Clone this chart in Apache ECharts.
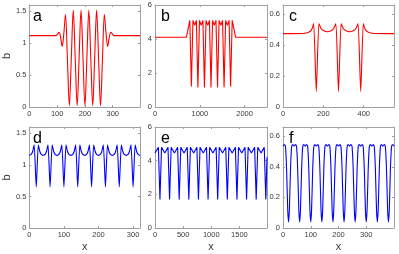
<!DOCTYPE html>
<html><head><meta charset="utf-8">
<script src="https://cdn.jsdelivr.net/npm/echarts@6/dist/echarts.min.js"></script>
<style>html,body{margin:0;padding:0;background:#fff}#c{width:399px;height:254px}</style>
</head><body><div id="c"></div><script>
// ---- data ----
const aX = [0,96,102,107,113,118,124,130,137,144,151,158,165,172,179,186,193,200,207,214,221,228,235,242,249,256,263,270,276,282,287,293,298,304,398];
const aY = [1.12,1.12,1.15,1.17,1.08,0.95,1.15,1.45,0.75,0.02,0.77,1.52,0.77,0.02,0.77,1.52,0.77,0.02,0.77,1.52,0.77,0.02,0.77,1.52,0.77,0.02,0.75,1.45,1.15,0.95,1.08,1.17,1.15,1.12,1.12];

const bX = [0,700,777,812,847,885,923,958,993,1031,1069,1104,1139,1177,1215,1250,1285,1323,1361,1396,1431,1469,1507,1542,1577,1615,1653,1688,1723,1800,2500];
const bY = [4.1,4.1,5.1,1.2,5.1,4.8,5.1,1.15,5.1,4.8,5.1,1.15,5.1,4.8,5.1,1.15,5.1,4.8,5.1,1.15,5.1,4.8,5.1,1.15,5.1,4.8,5.1,1.2,5.1,4.1,4.1];

const cX = [0,100,120,135,145,152,165,178,188,200,220,240,252,262,275,288,298,310,330,350,362,372,385,398,405,415,430,450,550];
const cY = [0.475,0.476,0.481,0.49,0.51,0.54,0.1,0.54,0.51,0.495,0.487,0.495,0.51,0.54,0.1,0.54,0.51,0.495,0.487,0.495,0.51,0.54,0.1,0.54,0.51,0.49,0.481,0.476,0.475];

const dX = [0,6,10,14,20,26,30,34,40,46,50,54,60,66,70,74,80,86,90,94,100,106,110,114,120,126,130,134,140,146,150,154,160,166,170,174,180,186,190,194,200,206,210,214,220,226,230,234,240,246,250,254,260,266,270,274,280,286,290,294,300,306,310,314,320];
const dY = [1.15,1.17,1.22,1.32,0.65,1.32,1.22,1.17, 1.15,1.17,1.22,1.32,0.65,1.32,1.22,1.17, 1.15,1.17,1.22,1.32,0.65,1.32,1.22,1.17, 1.15,1.17,1.22,1.32,0.65,1.32,1.22,1.17, 1.15,1.17,1.22,1.32,0.65,1.32,1.22,1.17, 1.15,1.17,1.22,1.32,0.65,1.32,1.22,1.17, 1.15,1.17,1.22,1.32,0.65,1.32,1.22,1.17, 1.15,1.17,1.22,1.32,0.65,1.32,1.22,1.17, 1.15];

const eX = [0,60,88,116,174,231,259,287,345,402,430,458,516,573,601,629,687,744,772,800,858,915,943,971,1029,1086,1114,1142,1200,1257,1285,1313,1371,1428,1456,1484,1542,1599,1627,1655,1713,1770,1798,1826,1884,1941,1969,1990];
const eY = [4.45,4.8,1.7,4.8, 4.45,4.8,1.7,4.8, 4.45,4.8,1.7,4.8, 4.45,4.8,1.7,4.8, 4.45,4.8,1.7,4.8, 4.45,4.8,1.7,4.8, 4.45,4.8,1.7,4.8, 4.45,4.8,1.7,4.8, 4.45,4.8,1.7,4.8, 4.45,4.8,1.7,4.8, 4.45,4.8,1.7,4.8, 4.45,4.8,1.7,4.2];

const fX = [0,5,9,13,17,20,23,27,31,35, 40,45,49,53,57,60,63,67,71,75, 80,85,89,93,97,100,103,107,111,115, 120,125,129,133,137,140,143,147,151,155, 160,165,169,173,177,180,183,187,191,195, 200,205,209,213,217,220,223,227,231,235, 240,245,249,253,257,260,263,267,271,275, 280,285,289,293,297,300,303,307,311,315, 320,325,329,333,337,340,343,347,351,355, 360,365,369,373,377,380,383,387,391,395, 400];
const fY = [0.535,0.545,0.53,0.38,0.12,0.04,0.12,0.38,0.53,0.545, 0.535,0.545,0.53,0.38,0.12,0.04,0.12,0.38,0.53,0.545, 0.535,0.545,0.53,0.38,0.12,0.04,0.12,0.38,0.53,0.545, 0.535,0.545,0.53,0.38,0.12,0.04,0.12,0.38,0.53,0.545, 0.535,0.545,0.53,0.38,0.12,0.04,0.12,0.38,0.53,0.545, 0.535,0.545,0.53,0.38,0.12,0.04,0.12,0.38,0.53,0.545, 0.535,0.545,0.53,0.38,0.12,0.04,0.12,0.38,0.53,0.545, 0.535,0.545,0.53,0.38,0.12,0.04,0.12,0.38,0.53,0.545, 0.535,0.545,0.53,0.38,0.12,0.04,0.12,0.38,0.53,0.545, 0.535,0.545,0.53,0.38,0.12,0.04,0.12,0.38,0.53,0.545, 0.535];

const panelLetters = ['a','b','c','d','e','f'];
const xMax = [398, 2500, 550, 320, 1990, 400];
const xStep = [100, 1000, 200, 100, 500, 100];
const yMax = [1.6, 6, 0.66, 1.6, 6, 0.66];
const yStep = [0.5, 2, 0.2, 0.5, 2, 0.2];

// ---- layout ----
const boxes = [
  {l:27, t:5, w:113, h:102}, {l:155, t:5, w:112, h:102}, {l:283, t:5, w:111, h:102},
  {l:27, t:127, w:113, h:101}, {l:155, t:127, w:112, h:101}, {l:283, t:127, w:111, h:101}
];
const xs = [aX,bX,cX,dX,eX,fX], ys = [aY,bY,cY,dY,eY,fY];
const colors = ['#ff0000','#ff0000','#ff0000','#0000ff','#0000ff','#0000ff'];
const smooth = [0.35, false, 0.2, 0.2, false, 0.3];
const axCol = '#a0a0a0', txtCol = '#3a3a3a', ff = 'Liberation Sans, Arial, sans-serif';
const fmt = v => String(+v.toFixed(3));

const xAxes = [], yAxes = [];
boxes.forEach((b,i) => {
  ['bottom','top'].forEach(pos => xAxes.push({
    type:'value', gridIndex:i, position:pos, min:0, max:xMax[i], interval:xStep[i],
    name: (pos==='bottom' && i>=3) ? 'x' : '', nameLocation:'middle', nameGap:13,
    nameTextStyle:{fontSize:11, color:txtCol, fontFamily:ff},
    axisLine:{show:true, onZero:false, lineStyle:{color:axCol, width:1}},
    axisTick:{show:true, inside:true, length:2, lineStyle:{color:axCol}},
    axisLabel:{show:pos==='bottom', fontSize:7.5, color:txtCol, margin:3, fontFamily:ff, showMaxLabel:false, formatter:fmt},
    splitLine:{show:false}
  }));
  ['left','right'].forEach(pos => yAxes.push({
    type:'value', gridIndex:i, position:pos, min:0, max:yMax[i], interval:yStep[i],
    name: (pos==='left' && (i===0||i===3)) ? 'b' : '', nameLocation:'middle', nameGap:15,
    nameTextStyle:{fontSize:11, color:txtCol, fontFamily:ff},
    axisLine:{show:true, onZero:false, lineStyle:{color:axCol, width:1}},
    axisTick:{show:true, inside:true, length:2, lineStyle:{color:axCol}},
    axisLabel:{show:pos==='left', fontSize:7.5, color:txtCol, margin:3, fontFamily:ff, showMaxLabel:(yMax[i]===6), formatter:fmt},
    splitLine:{show:false}
  }));
});

const option = {
  animation:false, backgroundColor:'#fff',
  grid: boxes.map(b => ({left:b.l, top:b.t, width:b.w, height:b.h, show:false, containLabel:false})),
  xAxis: xAxes,
  yAxis: yAxes,
  series: boxes.map((b,i) => ({
    type:'line', xAxisIndex:2*i, yAxisIndex:2*i, showSymbol:false, symbol:'none',
    smooth:smooth[i], lineStyle:{color:colors[i], width:1.1},
    data: xs[i].map((x,k) => [x, ys[i][k]])
  })),
  graphic: boxes.map((b,i) => ({
    type:'text', left:b.l + 6, top: b.t + 4,
    style:{text:panelLetters[i], font:'16px ' + ff, fill:'#000'}
  }))
};
const chart = echarts.init(document.getElementById('c'), null, {renderer:'canvas'});
chart.setOption(option);
</script></body></html>
